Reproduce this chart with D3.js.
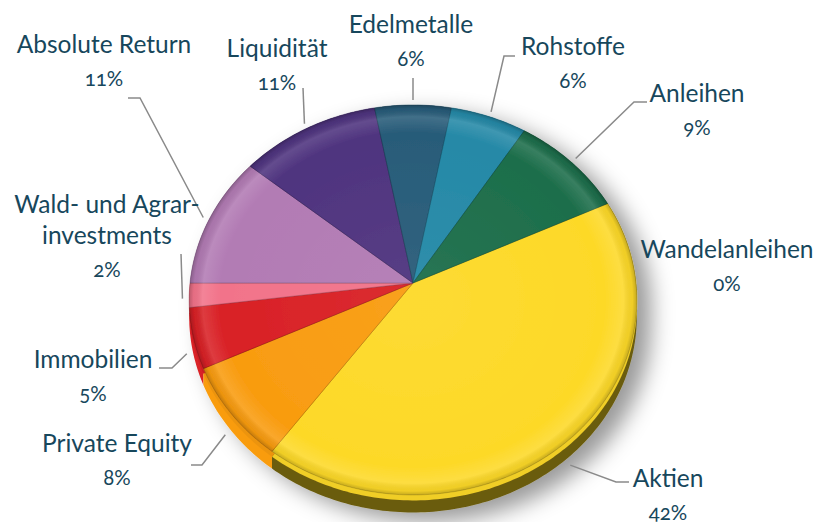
<!DOCTYPE html>
<html>
<head>
<meta charset="utf-8">
<script src="https://cdn.jsdelivr.net/npm/d3@7"></script>
<style>
  html, body { margin: 0; padding: 0; background: #fff; }
  svg { display: block; }
  text { font-family: Lato, "Open Sans", sans-serif; font-weight: 400; fill: #17475c; }
</style>
</head>
<body>
<svg width="824" height="522"></svg>
<script>
// Daten
const names = ["Aktien", "Private Equity", "Immobilien", "Wald- und Agrarinvestments", "Absolute Return",
  "Liquidität", "Edelmetalle", "Rohstoffe", "Anleihen", "Wandelanleihen"];
const values = [42, 8, 5, 2, 11, 11, 6, 6, 9, 0];
const colors = ["#FDD928", "#F99C10", "#D92126", "#F2738A", "#B27BB4",
  "#4F347F", "#285C79", "#2589A7", "#1D6E4B", "#7fb0c4"];
const labelLines = [["Aktien"], ["Private Equity"], ["Immobilien"], ["Wald- und Agrar-", "investments"],
  ["Absolute Return"], ["Liquidität"], ["Edelmetalle"], ["Rohstoffe"], ["Anleihen"], ["Wandelanleihen"]];

// Beschriftungs-Layout (Textmitte, erste Grundlinie) und Knickpunkte der Führungslinien
const labelPos = [[668, 487], [117, 452], [93, 368], [107, 213], [104, 53],
  [277, 57], [411, 33], [573, 55], [697, 102], [727, 258]];
const leaderPts = [[[616, 482], [629, 482]], [[202, 465], [191, 465]], [[172, 368], [159, 368]],
  [[181, 254]], [[140, 98], [128, 98]], [[303, 88]], [[413, 78]],
  [[504, 56], [515, 56]], [[634, 102], [647, 102]], []];

const svg = d3.select("svg");
const cx = 413, cy = 283;      // Spitze der Tortenstücke
const A = 223, B = 193.5;       // Halbachsen
const P = 0.087;                // Perspektive
const D = 16;                   // Höhe der Seitenwand
const start = 64.8 * Math.PI / 180;

// Punkt auf dem Kreis (Winkel im Uhrzeigersinn ab 12 Uhr) -> Bildschirm
function proj(t, r = 1, drop = 0) {
  const u = Math.sin(t) * r, v = -Math.cos(t) * r;
  const s = 1 / (1 - P * v);
  return [cx + A * u * s, cy + B * v * s + drop * s];
}
function arcPts(a0, a1, r = 1, drop = 0) {
  const n = Math.max(2, Math.ceil((a1 - a0) / (Math.PI / 180)));
  return d3.range(n + 1).map(i => proj(a0 + (a1 - a0) * i / n, r, drop));
}

const data = names.map((n, i) => ({ name: n, value: values[i], color: colors[i], lines: labelLines[i], i }));
const arcs = d3.pie().sort(null).value(d => d.value)
  .startAngle(start).endAngle(start + 2 * Math.PI)(data);

const line = d3.line();
const defs = svg.append("defs");

const f = defs.append("filter").attr("id", "shadow")
  .attr("x", "-20%").attr("y", "-20%").attr("width", "150%").attr("height", "150%");
f.append("feDropShadow").attr("dx", 14).attr("dy", 9).attr("stdDeviation", 11)
  .attr("flood-color", "#000").attr("flood-opacity", 0.4);

const rg = defs.append("radialGradient").attr("id", "rim");
rg.append("stop").attr("offset", "0%").attr("stop-color", "#fff").attr("stop-opacity", 0.05);
rg.append("stop").attr("offset", "86%").attr("stop-color", "#fff").attr("stop-opacity", 0);
rg.append("stop").attr("offset", "94%").attr("stop-color", "#fff").attr("stop-opacity", 0.12);
rg.append("stop").attr("offset", "98%").attr("stop-color", "#000").attr("stop-opacity", 0.05);
rg.append("stop").attr("offset", "100%").attr("stop-color", "#000").attr("stop-opacity", 0.22);

const pie = svg.append("g").attr("filter", "url(#shadow)");

const visible = arcs.filter(d => d.endAngle - d.startAngle > 0);

// Seitenwände, von hinten nach vorne
const sideOrder = visible.slice().sort((a, b) =>
  -Math.cos((a.startAngle + a.endAngle) / 2) - -Math.cos((b.startAngle + b.endAngle) / 2));
pie.selectAll(".side").data(sideOrder).join("path")
  .attr("class", "side")
  .attr("fill", d => {
    const mid = (d.startAngle + d.endAngle) / 2;
    const k = 2.4 * Math.pow(Math.max(0, Math.cos(mid - 140 * Math.PI / 180)), 3);
    return d3.color(d.data.color).darker(k);
  })
  .attr("d", d => {
    const top = arcPts(d.startAngle, d.endAngle);
    const bot = arcPts(d.startAngle, d.endAngle, 1, D).reverse();
    return line(top.concat(bot)) + "Z";
  });

// Fase an der Oberkante
pie.selectAll(".bevel").data(visible).join("path")
  .attr("class", "bevel")
  .attr("fill", d => d3.color(d.data.color).darker(0.15))
  .attr("d", d => line([[cx, cy + 4]].concat(arcPts(d.startAngle, d.endAngle, 1, 5))) + "Z");

// Deckflächen
pie.selectAll(".top").data(visible).join("path")
  .attr("class", "top")
  .attr("fill", d => d.data.color)
  .attr("stroke", d => d3.color(d.data.color).darker(1.2))
  .attr("stroke-opacity", 0.6)
  .attr("stroke-width", 0.8)
  .attr("stroke-linejoin", "round")
  .attr("d", d => line([[cx, cy]].concat(arcPts(d.startAngle, d.endAngle))) + "Z");

// Lichtkante
pie.append("path")
  .attr("fill", "url(#rim)")
  .attr("d", line(arcPts(0, 2 * Math.PI)) + "Z");

// Führungslinien
svg.selectAll(".leader").data(arcs.filter(d => leaderPts[d.data.i].length)).join("path")
  .attr("class", "leader")
  .attr("fill", "none")
  .attr("stroke", "#8a8a8a")
  .attr("stroke-width", 1.5)
  .attr("d", d => {
    const mid = (d.startAngle + d.endAngle) / 2;
    const v = -Math.cos(mid);
    const p0 = proj(mid, 1.03, v > 0 ? D * Math.min(1, v * 3) : 0);
    return line([p0].concat(leaderPts[d.data.i]));
  });

// Beschriftungen
const labels = svg.selectAll(".label").data(arcs).join("text")
  .attr("class", "label")
  .attr("text-anchor", "middle")
  .attr("x", d => labelPos[d.data.i][0])
  .attr("y", d => labelPos[d.data.i][1]);

labels.each(function(d) {
  const t = d3.select(this);
  const x = labelPos[d.data.i][0];
  d.data.lines.forEach((l, j) => {
    t.append("tspan").attr("x", x).attr("dy", j === 0 ? 0 : 31)
      .style("font-size", "24.5px").text(l);
  });
  t.append("tspan").attr("x", x).attr("dy", 33)
    .style("font-size", "20.5px")
    .style("font-variant-numeric", "oldstyle-nums")
    .text(d3.format(".0f")(d.data.value) + "%");
});
</script>
</body>
</html>
